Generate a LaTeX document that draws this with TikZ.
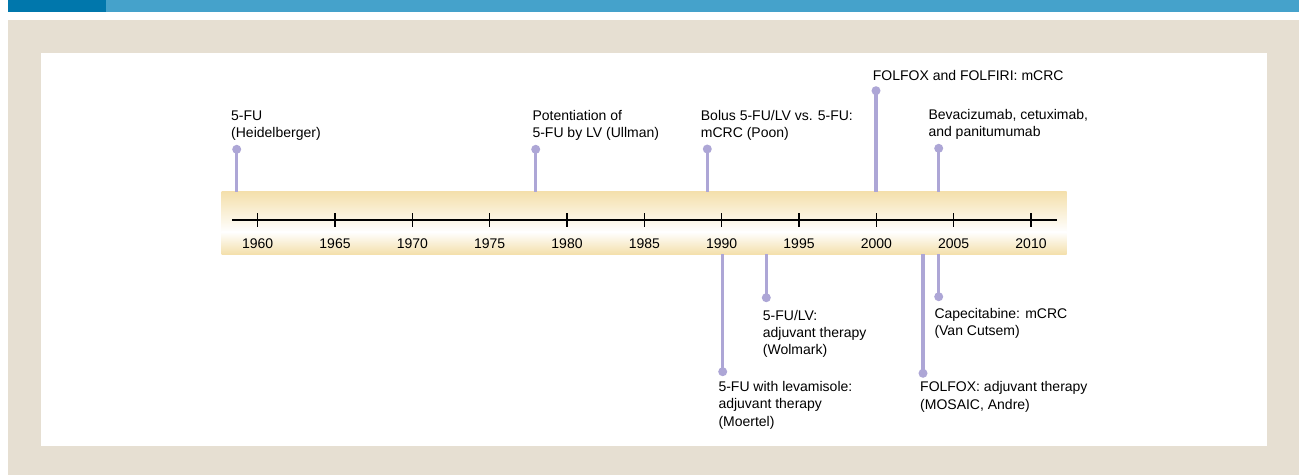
\documentclass[tikz,border=0pt]{standalone}
\usepackage{fontspec}
\setmainfont{Liberation Sans}
\begin{document}
\begin{tikzpicture}[x=1pt,y=-1pt]
\definecolor{darkblue}{HTML}{0077AC}
\definecolor{lightblue}{HTML}{45A2CB}
\definecolor{beige}{HTML}{E6DFD2}
\definecolor{tan}{HTML}{F4E0AC}
\definecolor{lav}{HTML}{ADA6D6}
\tikzset{
  dot/.style={circle,fill=lav,inner sep=0pt,minimum size=9pt},
  stem/.style={draw=lav,line width=3.5pt},
  lbl/.style={anchor=base west,align=left,inner sep=0pt,font=\fontsize{14}{17.3}\selectfont},
  yearlbl/.style={anchor=base,inner sep=0pt,font=\fontsize{14}{17.3}\selectfont},
  axisline/.style={draw=black,line width=1.3pt}
}
\useasboundingbox (0,0) rectangle (1299,475);
% header bar
\fill[darkblue] (8,0) rectangle (106,12);
\fill[lightblue] (106,0) rectangle (1299,12);
% background
\fill[beige] (8,20) rectangle (1299,475);
\fill[white] (40.7,53) rectangle (1267,445.5);
% band
\shade[top color=tan,bottom color=white] (221.7,191.7) rectangle (1066.7,232);
\shade[top color=white,bottom color=tan] (221.7,231.9) rectangle (1066.7,254);
% axis
\coordinate (axL) at (232,220);
\coordinate (axR) at (1057,220);
\draw[axisline] (axL) -- (axR);
\foreach \yr [count=\i from 0] in {1960,1965,...,2010}{
  \coordinate (t\yr) at ({257.7+77.33*\i},220);
  \draw[axisline] ([yshift=-6.7pt]t\yr) -- ([yshift=6.7pt]t\yr);
  \node[yearlbl] (y\yr) at ({257.7+77.33*\i},248.3) {\yr};
}
% events above (label positions are the baseline of the last line)
\node[dot] (d1) at (236.7,149.3) {};
\coordinate (s1) at (236.7,192);
\draw[stem] (d1.center) -- (s1);
\node[lbl] (l1) at (231,137.3) {5-FU\\(Heidelberger)};

\node[dot] (d2) at (535.7,149.3) {};
\coordinate (s2) at (535.7,192);
\draw[stem] (d2.center) -- (s2);
\node[lbl] (l2) at (532.3,137.3) {Potentiation of\\5-FU by LV (Ullman)};

\node[dot] (d3) at (707.3,149) {};
\coordinate (s3) at (707.3,192);
\draw[stem] (d3.center) -- (s3);
\node[lbl] (l3) at (700.7,137.3) {Bolus 5-FU/LV vs. 5-FU:\\mCRC (Poon)};

\node[dot] (d4) at (876,90.7) {};
\coordinate (s4) at (876,192);
\draw[stem] (d4.center) -- (s4);
\node[lbl] (l4) at (872.7,80) {FOLFOX and FOLFIRI: mCRC};

\node[dot] (d5) at (938.7,148.3) {};
\coordinate (s5) at (938.7,192);
\draw[stem] (d5.center) -- (s5);
\node[lbl] (l5) at (928.3,136.3) {Bevacizumab, cetuximab,\\and panitumumab};

% events below
\node[dot] (d6) at (722.7,371.7) {};
\coordinate (s6) at (722.7,254);
\draw[stem] (s6) -- (d6.center);
\node[lbl] (l6) at (718.3,426.1) {5-FU with levamisole:\\adjuvant therapy\\(Moertel)};

\node[dot] (d7) at (766.3,297.7) {};
\coordinate (s7) at (766.3,254);
\draw[stem] (s7) -- (d7.center);
\node[lbl] (l7) at (762.7,354.6) {5-FU/LV:\\adjuvant therapy\\(Wolmark)};

\node[dot] (d8) at (923,373.3) {};
\coordinate (s8) at (923,254);
\draw[stem] (s8) -- (d8.center);
\node[lbl] (l8) at (920,409) {FOLFOX: adjuvant therapy\\(MOSAIC, Andre)};

\node[dot] (d9) at (938.7,296.7) {};
\coordinate (s9) at (938.7,254);
\draw[stem] (s9) -- (d9.center);
\node[lbl] (l9) at (934.3,335.6) {Capecitabine: mCRC\\(Van Cutsem)};
\end{tikzpicture}
\end{document}
